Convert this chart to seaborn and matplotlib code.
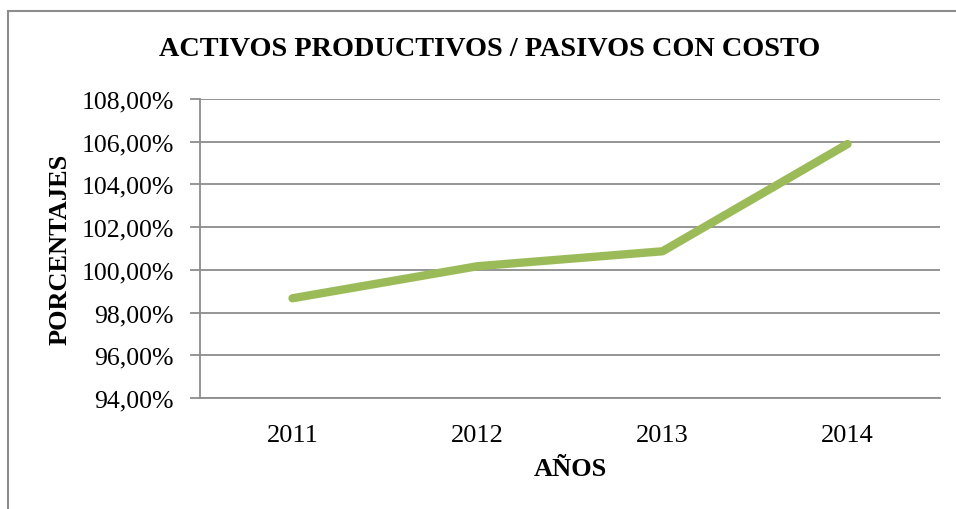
import matplotlib
matplotlib.use("Agg")
import matplotlib.pyplot as plt
import seaborn as sns
import pandas as pd
from matplotlib.ticker import FuncFormatter
from matplotlib.patches import Rectangle

years = ["2011", "2012", "2013", "2014"]
ratios = [98.67, 100.17, 100.87, 105.89]
yticks = [94, 96, 98, 100, 102, 104, 106, 108]

df = pd.DataFrame({"year": years, "ratio": ratios})

sns.set_theme(style="white")
plt.rcParams["font.family"] = ["Liberation Serif", "DejaVu Serif"]

W, H = 956, 510
fig = plt.figure(figsize=(W / 100, H / 100), dpi=100)
ax = fig.add_axes([200 / W, 1 - 399 / H, 740 / W, 299 / H])

sns.lineplot(data=df, x="year", y="ratio", ax=ax, color="#9BBB59",
             linewidth=6, sort=False, solid_capstyle="round",
             solid_joinstyle="round")

ax.set_xlim(-0.5, 3.5)
ax.set_ylim(94, 108)
ax.set_yticks(yticks)
ax.yaxis.set_major_formatter(FuncFormatter(lambda v, p: f"{v:.2f}".replace(".", ",") + "%"))
ax.grid(axis="y", color="#8C8C8C", linewidth=1.3)
ax.set_axisbelow(True)
for s in ["top", "right"]:
    ax.spines[s].set_visible(False)
ax.spines["left"].set_color("#8C8C8C")
ax.spines["bottom"].set_color("#8C8C8C")
ax.spines["left"].set_linewidth(1.3)
ax.spines["bottom"].set_linewidth(1.3)
ax.tick_params(axis="y", which="major", left=True, length=7, width=1.3,
               color="#8C8C8C", labelsize=18.5, pad=12, labelcolor="black")
ax.tick_params(axis="x", bottom=False, labelsize=19, pad=13, labelcolor="black")

ax.set_xlabel("AÑOS", fontsize=19, fontweight="bold", labelpad=8, color="black")
ax.set_ylabel("PORCENTAJES", fontsize=19, fontweight="bold", labelpad=7, color="black")

fig.text(490 / W, 1 - 50 / H, "ACTIVOS PRODUCTIVOS / PASIVOS CON COSTO",
         ha="center", va="center", fontsize=20.3, fontweight="bold", color="black")

fig.patches.append(Rectangle((8 / W, -0.1), 1.2, 1 - 12 / H + 0.1,
                             transform=fig.transFigure, fill=False,
                             edgecolor="#8C8C8C", linewidth=1.5))

fig.savefig("out.png", dpi=100)
